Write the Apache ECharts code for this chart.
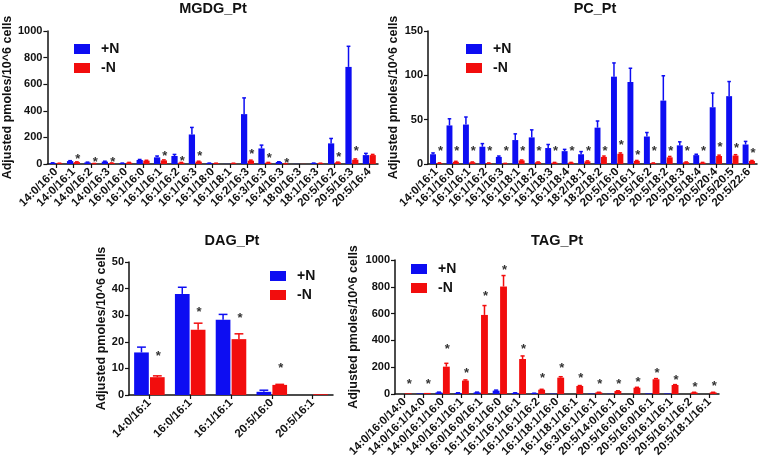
<!DOCTYPE html>
<html>
<head>
<meta charset="utf-8">
<script src="https://cdn.jsdelivr.net/npm/echarts@6/dist/echarts.min.js"></script>
<style>html,body{margin:0;padding:0;background:#fff}#c{width:760px;height:461px}</style>
</head>
<body>
<div id="c"></div>
<script>
// ---------- DATA ----------
const seriesNames = ['+N', '-N'];
const yAxisTitle = 'Adjusted pmoles/10^6 cells';

const mgdgTitle = 'MGDG_Pt';
const mgdgCats = ['14:0/16:0','14:0/16:1','14:0/16:2','14:0/16:3','16:0/16:0','16:1/16:0','16:1/16:1','16:1/16:2','16:1/16:3','16:1/18:0','16:1/18:1','16:2/16:3','16:3/16:3','16:4/16:3','18:0/16:3','18:1/16:3','20:5/16:2','20:5/16:3','20:5/16:4'];
const mgdgPlus     = [8, 22, 12, 18, 6, 30, 50, 60, 222, 6, 1, 375, 117, 15, 1, 6, 155, 730, 67];
const mgdgPlusErr  = [1, 3, 2, 3, 1, 4, 10, 12, 53, 1, 0, 122, 25, 2, 0, 1, 37, 155, 13];
const mgdgMinus    = [5, 14, 3, 7, 10, 25, 27, 10, 18, 5, 5, 25, 10, 2, 1, 5, 12, 32, 67];
const mgdgMinusErr = [1, 2, 1, 1, 2, 3, 4, 2, 3, 1, 1, 4, 2, 1, 0, 1, 2, 6, 5];
const mgdgSig      = [null, 60, 35, 35, null, null, 80, 42, 80, null, null, 97, 67, 30, null, null, 75, 117, null];
const mgdgYMax = 1000, mgdgYStep = 200;

const pcTitle = 'PC_Pt';
const pcCats = ['14:0/16:1','16:1/16:0','16:1/16:1','16:1/16:2','16:1/16:3','16:1/18:1','16:1/18:2','16:1/18:3','16:1/18:4','18:2/18:1','18:2/18:2','20:5/16:0','20:5/16:1','20:5/16:2','20:5/18:2','20:5/18:3','20:5/18:4','20:5/20:4','20:5/20:5','20:5/22:6'];
const pcPlus     = [11, 43.5, 44.5, 19.5, 8, 27, 30, 18, 14.5, 11, 41, 98.5, 92.5, 31, 71.5, 21, 10, 64, 76.5, 22];
const pcPlusErr  = [1.5, 7.5, 8.5, 3.5, 1, 7, 8.5, 4, 2, 3, 7.5, 15.5, 15.5, 4.5, 28, 4, 1, 16, 16.5, 3.5];
const pcMinus    = [1, 2.5, 2, 1, 0.5, 4, 2, 1.5, 1.5, 3, 8, 11.5, 3.5, 1, 7.5, 2, 1.5, 9, 9.5, 3.5];
const pcMinusErr = [0.3, 0.5, 0.3, 0.2, 0.2, 0.5, 0.3, 0.3, 0.3, 0.5, 1, 1, 0.5, 0.2, 1, 0.3, 0.3, 1, 1, 0.5];
const pcSig      = [17.6, 17.6, 17.6, 17.6, 17.6, 17.6, 17.6, 17.6, 17.6, 17.6, 17.6, 24, 12.7, 17.6, 17.6, 17.6, 17.6, 22, 21, 15.7];
const pcYMax = 150, pcYStep = 50;

const dagTitle = 'DAG_Pt';
const dagCats = ['14:0/16:1','16:0/16:1','16:1/16:1','20:5/16:0','20:5/16:1'];
const dagPlus     = [16, 38, 28.3, 1.2, 0];
const dagPlusErr  = [2, 2.5, 2, 0.6, 0];
const dagMinus    = [6.7, 24.5, 21, 3.8, 0.3];
const dagMinusErr = [0.5, 2.5, 2, 0.2, 0];
const dagSig      = [15.8, 32.3, 30, 11.3, null];
const dagYMax = 50, dagYStep = 10;

const tagTitle = 'TAG_Pt';
const tagCats = ['14:0/16:0/14:0','14:0/16:1/14:0','14:0/16:1/16:0','14:0/16:1/16:1','16:0/16:0/16:1','16:1/16:1/16:0','16:1/16:1/16:1','16:1/16:1/16:2','16:1/18:1/16:0','16:1/18:1/16:1','16:3/16:1/16:1','20:5/14:0/16:1','20:5/16:0/16:0','20:5/16:0/16:1','20:5/16:1/16:1','20:5/16:1/16:2','20:5/18:1/16:1'];
const tagPlus     = [0, 4, 12, 8, 12, 25, 8, 5, 3, 0, 3, 2, 0, 4, 4, 0, 0];
const tagPlusErr  = [0, 0, 2, 1, 2, 4, 1, 1, 0, 0, 0, 0, 0, 0, 0, 0, 0];
const tagMinus    = [5, 8, 204, 100, 590, 802, 261, 32, 122, 60, 12, 22, 47, 110, 67, 12, 12];
const tagMinusErr = [0, 0, 25, 5, 70, 82, 23, 3, 7, 3, 1, 2, 3, 5, 3, 1, 1];
const tagSig      = [92, 92, 353, 174, 747, 946, 353, 142, 212, 137, 97, 97, 110, 179, 122, 75, 80];
const tagYMax = 1000, tagYStep = 200;

// ---------- LAYOUT / STYLE ----------
const BLUE = '#0d0df2';
const RED = '#f20d0d';
const FONT = 'Liberation Sans, Arial, sans-serif';
const BAR_FRAC = 0.36;   // bar width as share of category band
const GAP_FRAC = 0.08;   // gap as share of bar width

const panels = [
  { title: mgdgTitle, cats: mgdgCats, plus: mgdgPlus, plusErr: mgdgPlusErr, minus: mgdgMinus, minusErr: mgdgMinusErr, sig: mgdgSig, yMax: mgdgYMax, yStep: mgdgYStep,
    grid: {left: 47, top: 31, width: 331, height: 133}, titlePos: {x: 213, y: 1}, legendPos: {x: 74, y: 42}, nameGap: 29 },
  { title: pcTitle, cats: pcCats, plus: pcPlus, plusErr: pcPlusErr, minus: pcMinus, minusErr: pcMinusErr, sig: pcSig, yMax: pcYMax, yStep: pcYStep,
    grid: {left: 428, top: 31, width: 329, height: 133}, titlePos: {x: 595, y: 1}, legendPos: {x: 466, y: 42}, nameGap: 28 },
  { title: dagTitle, cats: dagCats, plus: dagPlus, plusErr: dagPlusErr, minus: dagMinus, minusErr: dagMinusErr, sig: dagSig, yMax: dagYMax, yStep: dagYStep,
    grid: {left: 129, top: 262, width: 204, height: 133}, titlePos: {x: 232, y: 233}, legendPos: {x: 270, y: 269}, nameGap: 19 },
  { title: tagTitle, cats: tagCats, plus: tagPlus, plusErr: tagPlusErr, minus: tagMinus, minusErr: tagMinusErr, sig: tagSig, yMax: tagYMax, yStep: tagYStep,
    grid: {left: 395, top: 260, width: 324, height: 134}, titlePos: {x: 557, y: 233}, legendPos: {x: 411, y: 262}, nameGap: 35 }
];

function barOffset(api) {
  const band = api.size([1, 0])[0];
  const w = band * BAR_FRAC;
  return { w: w, off: w / 2 + (w * GAP_FRAC) / 2 };
}

function renderErr(params, api) {
  const i = api.value(0);
  const b = barOffset(api);
  const children = [];
  const items = [[api.value(1), api.value(2), -b.off, BLUE], [api.value(3), api.value(4), b.off, RED]];
  items.forEach(function (it) {
    const v = it[0], e = it[1];
    if (!(e > 0)) return;
    const p0 = api.coord([i, v]);
    const p1 = api.coord([i, v + e]);
    const x = p0[0] + it[2];
    children.push({ type: 'line', shape: {x1: x, y1: p0[1], x2: x, y2: p1[1]}, style: {stroke: it[3], lineWidth: 1.5} });
    children.push({ type: 'line', shape: {x1: x - b.w * 0.3, y1: p1[1], x2: x + b.w * 0.3, y2: p1[1]}, style: {stroke: it[3], lineWidth: 1.5} });
  });
  return { type: 'group', children: children };
}

function renderSig(params, api) {
  const i = api.value(0);
  const v = api.value(1);
  if (v == null || isNaN(v)) return null;
  const b = barOffset(api);
  const p = api.coord([i, v]);
  return {
    type: 'text',
    x: p[0] + b.off + 1,
    y: p[1] + 3,
    style: { text: '*', fill: '#333', fontSize: 13, fontWeight: 'bold', fontFamily: FONT,
             align: 'center', verticalAlign: 'middle', textAlign: 'center', textVerticalAlign: 'middle' }
  };
}

const option = {
  animation: false,
  backgroundColor: '#fff',
  title: [], legend: [], grid: [], xAxis: [], yAxis: [], series: []
};

panels.forEach(function (p, k) {
  option.title.push({
    text: p.title, left: p.titlePos.x, top: p.titlePos.y, textAlign: 'center', padding: 0,
    textStyle: { fontFamily: FONT, fontWeight: 'bold', fontSize: 14.5, color: '#111' }
  });
  option.legend.push({
    data: seriesNames, orient: 'vertical', left: p.legendPos.x, top: p.legendPos.y, padding: 0,
    itemWidth: 16, itemHeight: 10, itemGap: 5, icon: 'rect', selectedMode: false,
    textStyle: { fontFamily: FONT, fontWeight: 'bold', fontSize: 14, color: '#111', padding: [0, 0, 0, 6] }
  });
  option.grid.push(Object.assign({ containLabel: false }, p.grid));
  option.xAxis.push({
    type: 'category', gridIndex: k, data: p.cats,
    axisLine: { lineStyle: { color: '#111', width: 1.5 } },
    axisTick: { show: true, alignWithLabel: true, length: 4, lineStyle: { color: '#111', width: 1.2 } },
    axisLabel: { rotate: 45, interval: 0, margin: 6, fontFamily: FONT, fontWeight: 'bold', fontSize: 11.5, color: '#111' },
    splitLine: { show: false }
  });
  option.yAxis.push({
    type: 'value', gridIndex: k, min: 0, max: p.yMax, interval: p.yStep,
    name: yAxisTitle, nameLocation: 'middle', nameRotate: 90, nameGap: p.nameGap,
    nameTextStyle: { fontFamily: FONT, fontWeight: 'bold', fontSize: 12.5, color: '#111', verticalAlign: 'bottom' },
    axisLine: { show: true, lineStyle: { color: '#111', width: 1.5 } },
    axisTick: { show: true, length: 4, lineStyle: { color: '#111', width: 1.2 } },
    axisLabel: { margin: 5, fontFamily: FONT, fontWeight: 'bold', fontSize: 11, color: '#111',
                 formatter: function (v) { return String(v); } },
    splitLine: { show: false }
  });
  option.series.push({
    name: seriesNames[0], type: 'bar', xAxisIndex: k, yAxisIndex: k, data: p.plus,
    barWidth: (BAR_FRAC * 100) + '%', barGap: (GAP_FRAC * 100) + '%', itemStyle: { color: BLUE }
  });
  option.series.push({
    name: seriesNames[1], type: 'bar', xAxisIndex: k, yAxisIndex: k, data: p.minus,
    barWidth: (BAR_FRAC * 100) + '%', barGap: (GAP_FRAC * 100) + '%', itemStyle: { color: RED }
  });
  option.series.push({
    type: 'custom', xAxisIndex: k, yAxisIndex: k, renderItem: renderErr, z: 3, silent: true,
    encode: { x: 0, y: 1 },
    data: p.cats.map(function (c, i) { return [i, p.plus[i], p.plusErr[i], p.minus[i], p.minusErr[i]]; })
  });
  option.series.push({
    type: 'custom', xAxisIndex: k, yAxisIndex: k, renderItem: renderSig, z: 4, silent: true,
    encode: { x: 0, y: 1 },
    data: p.cats.map(function (c, i) { return [i, p.sig[i] == null ? '-' : p.sig[i]]; })
  });
});

const chart = echarts.init(document.getElementById('c'), null, { renderer: 'canvas' });
chart.setOption(option);
</script>
</body>
</html>
